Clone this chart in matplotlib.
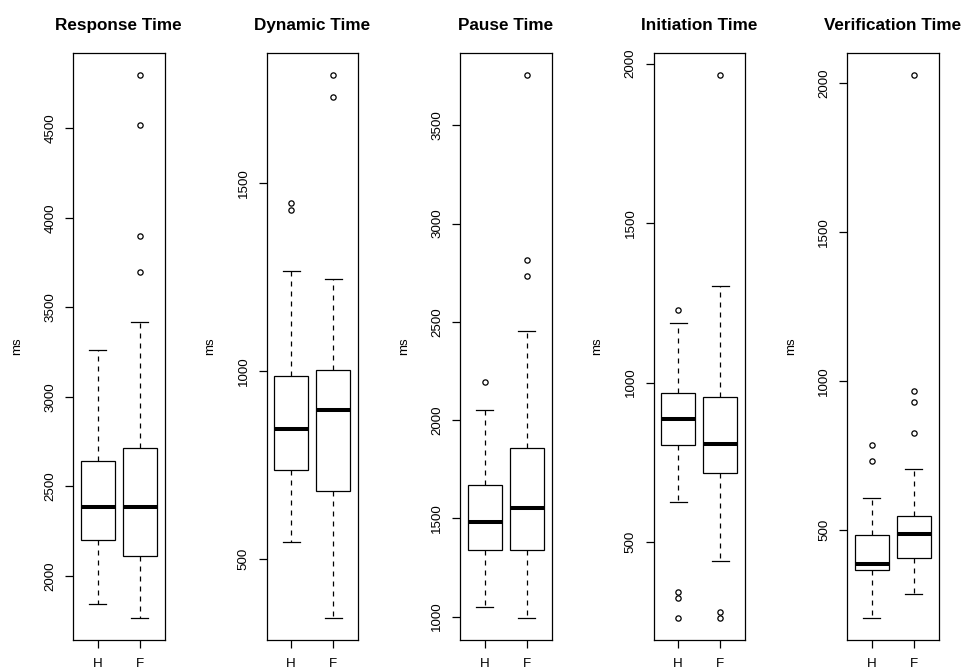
import matplotlib
matplotlib.use("Agg")
import matplotlib.pyplot as plt
from matplotlib.ticker import MultipleLocator

plt.rcParams['font.family'] = ['Liberation Sans', 'DejaVu Sans']

categories = ["H", "F"]
titles = ["Response Time", "Dynamic Time", "Pause Time", "Initiation Time", "Verification Time"]
ylabel = "ms"

# five-number summaries: [whisker low, Q1, median, Q3, whisker high]
response_H = [1844, 2201, 2384, 2640, 3262]
response_F = [1764, 2112, 2384, 2713, 3421]
response_H_out = []
response_F_out = [4800, 4520, 3899, 3700]

dynamic_H = [545, 737, 847, 987, 1268]
dynamic_F = [343, 682, 897, 1004, 1245]
dynamic_H_out = [1448, 1429]
dynamic_F_out = [1789, 1729]

pause_H = [1048, 1339, 1482, 1671, 2051]
pause_F = [992, 1341, 1551, 1856, 2453]
pause_H_out = [2192]
pause_F_out = [3757, 2816, 2733]

initiation_H = [624, 804, 887, 966, 1186]
initiation_F = [441, 715, 807, 956, 1304]
initiation_H_out = [1228, 343, 323, 261]
initiation_F_out = [1965, 282, 261]

verification_H = [203, 366, 385, 484, 606]
verification_F = [283, 406, 486, 545, 706]
verification_H_out = [786, 732]
verification_F_out = [2029, 967, 929, 827]

panels = [
    (response_H, response_H_out, response_F, response_F_out),
    (dynamic_H, dynamic_H_out, dynamic_F, dynamic_F_out),
    (pause_H, pause_H_out, pause_F, pause_F_out),
    (initiation_H, initiation_H_out, initiation_F, initiation_F_out),
    (verification_H, verification_H_out, verification_F, verification_F_out),
]

W, H = 965, 671
fig = plt.figure(figsize=(W / 100, H / 100), dpi=100)

ax_w = 91.5
ax_top, ax_bot = 53, 640
lefts = [73 + 193.5 * i for i in range(5)]

for i, (title, (sH, oH, sF, oF)) in enumerate(zip(titles, panels)):
    ax = fig.add_axes([lefts[i] / W, 1 - ax_bot / H, ax_w / W, (ax_bot - ax_top) / H])
    stats = []
    for lab, s, o in [(categories[0], sH, oH), (categories[1], sF, oF)]:
        stats.append(dict(label=lab, whislo=s[0], q1=s[1], med=s[2], q3=s[3],
                          whishi=s[4], fliers=o))
    ax.bxp(stats, positions=[1, 2], widths=0.8, patch_artist=True,
           boxprops=dict(facecolor='white', edgecolor='black', linewidth=0.9),
           medianprops=dict(color='black', linewidth=2.9, solid_capstyle='butt'),
           whiskerprops=dict(color='black', linewidth=0.9, linestyle=(0, (4, 4))),
           capprops=dict(color='black', linewidth=0.9),
           capwidths=0.4,
           flierprops=dict(marker='o', markersize=3.8, markerfacecolor='none',
                           markeredgecolor='black', markeredgewidth=0.9, linestyle='none'))
    allv = sH + sF + oH + oF
    lo, hi = min(allv), max(allv)
    r = hi - lo
    ax.set_ylim(lo - 0.04 * r, hi + 0.04 * r)
    ax.set_xlim(0.42, 2.58)
    ax.yaxis.set_major_locator(MultipleLocator(500))
    ax.tick_params(axis='both', direction='out', length=6, width=0.9,
                   labelsize=9.6, colors='black')
    ax.tick_params(axis='y', pad=6)
    ax.tick_params(axis='x', pad=7)
    for lbl in ax.get_yticklabels():
        lbl.set_rotation(90)
        lbl.set_va('center')
        lbl.set_ha('right')
    for sp in ax.spines.values():
        sp.set_linewidth(0.9)
    ax.set_title(title, fontsize=12.3, fontweight='bold', pad=16.5)
    ax.set_ylabel(ylabel, fontsize=9.6, va='center', ha='center')
    ax.yaxis.set_label_coords(-56.3 / ax_w, 0.5)

fig.savefig("out.png", dpi=100)
